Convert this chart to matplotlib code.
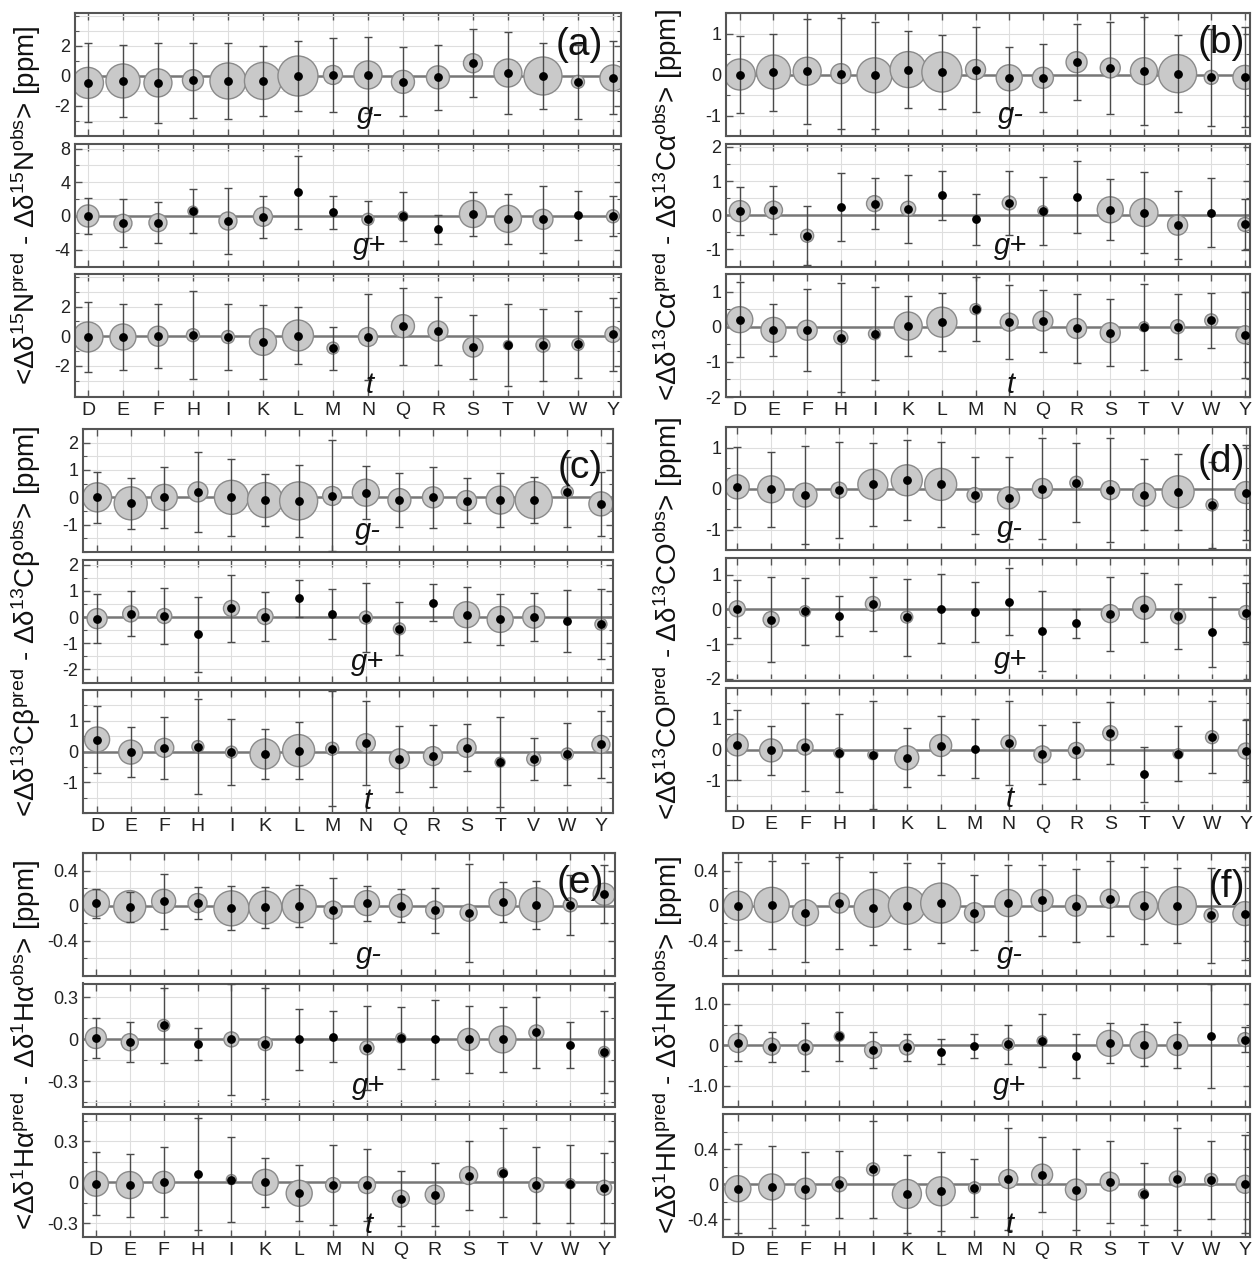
import numpy as np
import matplotlib.pyplot as plt

plt.rcParams['font.family'] = ['Liberation Sans', 'DejaVu Sans']
plt.rcParams['mathtext.fontset'] = 'custom'
plt.rcParams['mathtext.rm'] = 'Liberation Sans'
plt.rcParams['mathtext.it'] = 'Liberation Sans:italic'
plt.rcParams['axes.unicode_minus'] = False

residues = ['D', 'E', 'F', 'H', 'I', 'K', 'L', 'M', 'N', 'Q', 'R', 'S', 'T', 'V', 'W', 'Y']

# mean deviation, spread (error bar half length), circle diameter (population, px; 0 = none)
# (a) 15N
n_gm = [-0.46, -0.33, -0.46, -0.28, -0.33, -0.33, 0.0, 0.07, 0.07, -0.39, -0.09, 0.85, 0.2, 0.0, -0.39, -0.13]
n_gm_sd = [2.63, 2.43, 2.65, 2.5, 2.55, 2.35, 2.36, 2.45, 2.53, 2.3, 2.16, 2.28, 2.72, 2.2, 2.48, 2.43]
n_gm_pop = [31, 34, 28, 21, 36, 37, 40, 19, 28, 23, 23, 19, 28, 38, 13, 26]
n_gp = [0.0, -0.87, -0.8, 0.57, -0.6, -0.1, 2.8, 0.45, -0.4, -0.04, -1.6, 0.23, -0.34, -0.4, 0.08, -0.04]
n_gp_sd = [2.18, 2.85, 2.4, 2.6, 3.93, 2.5, 4.33, 1.95, 2.23, 2.9, 1.75, 2.6, 2.97, 3.98, 2.9, 2.38]
n_gp_pop = [22, 18, 18, 10, 18, 19, 0, 0, 12, 10, 0, 27, 27, 20, 0, 13]
n_t = [-0.05, -0.05, 0.0, 0.07, -0.05, -0.38, 0.05, -0.8, -0.05, 0.68, 0.35, -0.73, -0.6, -0.6, -0.55, 0.12]
n_t_sd = [2.35, 2.25, 2.15, 2.95, 2.2, 2.5, 1.95, 1.45, 2.9, 2.6, 2.28, 2.18, 2.78, 2.45, 2.25, 2.45]
n_t_pop = [30, 26, 20, 13, 13, 27, 31, 12, 19, 23, 20, 20, 9, 14, 12, 16]

# (b) 13C alpha
ca_gm = [0.0, 0.06, 0.08, 0.02, -0.02, 0.12, 0.06, 0.12, -0.08, -0.08, 0.3, 0.16, 0.08, 0.02, -0.07, -0.07]
ca_gm_sd = [0.94, 0.94, 1.28, 1.35, 1.3, 0.93, 0.9, 1.03, 0.76, 0.83, 0.93, 1.12, 1.32, 0.94, 1.18, 1.22]
ca_gm_pop = [31, 34, 28, 20, 35, 36, 40, 20, 26, 21, 21, 20, 27, 38, 14, 24]
ca_gp = [0.12, 0.15, -0.6, 0.24, 0.34, 0.19, 0.58, -0.12, 0.36, 0.13, 0.53, 0.16, 0.08, -0.29, 0.08, -0.27]
ca_gp_sd = [0.7, 0.7, 0.87, 1.0, 0.74, 0.99, 0.72, 0.74, 0.93, 1.0, 1.05, 0.89, 1.19, 0.99, 1.02, 0.74]
ca_gp_pop = [21, 18, 13, 0, 16, 15, 0, 0, 14, 10, 0, 26, 28, 20, 0, 14]
ca_t = [0.2, -0.09, -0.1, -0.31, -0.2, 0.02, 0.13, 0.5, 0.13, 0.16, -0.05, -0.17, 0.0, 0.0, 0.18, -0.23]
ca_t_sd = [1.06, 0.75, 1.16, 1.56, 1.32, 0.86, 0.83, 0.92, 1.06, 0.88, 0.98, 0.95, 1.22, 0.93, 0.79, 1.22]
ca_t_pop = [26, 25, 20, 14, 12, 28, 30, 11, 18, 20, 20, 20, 10, 14, 13, 18]

# (c) 13C beta
cb_gm = [0.0, -0.22, 0.0, 0.2, 0.0, -0.1, -0.13, 0.05, 0.17, -0.1, 0.0, -0.12, -0.1, -0.1, 0.2, -0.24]
cb_gm_sd = [0.93, 0.94, 1.11, 1.47, 1.4, 0.96, 1.32, 2.03, 0.97, 1.0, 1.11, 0.81, 1.0, 0.83, 1.29, 1.17]
cb_gm_pop = [29, 33, 26, 20, 34, 35, 38, 19, 27, 23, 21, 20, 28, 37, 12, 24]
cb_gp = [-0.06, 0.12, 0.04, -0.65, 0.33, 0.02, 0.71, 0.12, -0.02, -0.45, 0.55, 0.09, -0.09, 0.0, -0.15, -0.27]
cb_gp_sd = [0.94, 0.86, 1.08, 1.43, 1.27, 0.93, 0.72, 0.94, 1.31, 1.01, 0.71, 1.06, 0.96, 0.92, 1.2, 1.34]
cb_gp_pop = [20, 16, 15, 0, 16, 16, 0, 0, 13, 12, 0, 26, 26, 22, 0, 12]
cb_t = [0.39, -0.02, 0.12, 0.16, -0.02, -0.08, 0.03, 0.09, 0.27, -0.24, -0.15, 0.12, -0.35, -0.24, -0.08, 0.23]
cb_t_sd = [1.09, 0.82, 1.0, 1.55, 1.07, 0.8, 0.92, 1.87, 1.36, 1.08, 1.02, 0.77, 1.47, 0.68, 1.01, 1.09]
cb_t_pop = [25, 24, 19, 12, 12, 30, 32, 13, 19, 20, 19, 19, 10, 14, 12, 18]

# (d) 13CO
co_gm = [0.04, -0.02, -0.16, -0.04, 0.1, 0.2, 0.1, -0.16, -0.23, 0.0, 0.14, -0.04, -0.15, -0.08, -0.4, -0.1]
co_gm_sd = [0.97, 0.91, 1.2, 1.17, 1.01, 0.98, 1.03, 0.94, 1.01, 1.23, 0.96, 1.27, 0.86, 0.93, 1.05, 1.16]
co_gm_pop = [24, 27, 24, 16, 30, 31, 32, 15, 22, 20, 13, 19, 23, 32, 12, 22]
co_gp = [0.02, -0.29, -0.05, -0.19, 0.16, -0.22, 0.02, -0.07, 0.23, -0.62, -0.4, -0.12, 0.05, -0.2, -0.66, -0.09]
co_gp_sd = [0.83, 1.23, 0.97, 0.59, 0.78, 1.11, 1.0, 0.86, 0.96, 1.16, 0.41, 1.07, 1.0, 0.94, 1.01, 0.85]
co_gp_pop = [16, 16, 11, 0, 15, 12, 0, 0, 0, 0, 0, 18, 23, 15, 0, 14]
co_t = [0.15, -0.03, 0.08, -0.11, -0.17, -0.27, 0.13, 0.02, 0.22, -0.16, -0.03, 0.53, -0.81, -0.14, 0.4, -0.05]
co_t_sd = [1.15, 0.8, 1.43, 1.28, 1.75, 0.96, 0.95, 0.96, 1.37, 0.95, 0.92, 1.0, 0.9, 0.89, 1.18, 1.01]
co_t_pop = [22, 23, 16, 10, 10, 24, 22, 0, 15, 17, 16, 15, 0, 10, 13, 16]

# (e) 1H alpha
ha_gm = [0.03, -0.01, 0.05, 0.03, -0.03, -0.02, 0.0, -0.05, 0.03, 0.0, -0.05, -0.08, 0.04, 0.01, 0.01, 0.13]
ha_gm_sd = [0.165, 0.17, 0.31, 0.185, 0.25, 0.23, 0.24, 0.37, 0.2, 0.185, 0.255, 0.56, 0.225, 0.275, 0.345, 0.33]
ha_gm_pop = [27, 32, 24, 19, 35, 33, 34, 18, 25, 23, 18, 17, 27, 34, 14, 22]
ha_gp = [0.01, -0.02, 0.1, -0.03, 0.0, -0.03, 0.0, 0.02, -0.06, 0.01, 0.0, 0.0, 0.0, 0.05, -0.04, -0.09]
ha_gp_sd = [0.145, 0.145, 0.27, 0.115, 0.395, 0.395, 0.22, 0.185, 0.3, 0.225, 0.285, 0.24, 0.235, 0.255, 0.165, 0.29]
ha_gp_pop = [21, 17, 12, 0, 15, 14, 0, 0, 14, 10, 0, 22, 27, 15, 0, 11]
ha_t = [-0.01, -0.02, 0.0, 0.06, 0.02, 0.0, -0.08, -0.02, -0.02, -0.12, -0.09, 0.05, 0.07, -0.02, -0.01, -0.04]
ha_t_sd = [0.23, 0.23, 0.255, 0.41, 0.31, 0.18, 0.205, 0.29, 0.265, 0.2, 0.23, 0.25, 0.325, 0.28, 0.285, 0.255]
ha_t_pop = [25, 27, 22, 0, 10, 26, 26, 15, 17, 17, 19, 18, 10, 15, 10, 15]

# (f) 1HN
hn_gm = [0.0, 0.01, -0.08, 0.03, -0.03, 0.0, 0.03, -0.08, 0.03, 0.06, 0.0, 0.08, 0.0, 0.0, -0.11, -0.09]
hn_gm_sd = [0.5, 0.5, 0.565, 0.525, 0.415, 0.49, 0.46, 0.425, 0.43, 0.405, 0.415, 0.425, 0.435, 0.43, 0.54, 0.525]
hn_gm_pop = [29, 35, 26, 20, 38, 37, 40, 20, 27, 22, 21, 19, 28, 38, 14, 24]
hn_gp = [0.05, -0.04, -0.06, 0.21, -0.12, -0.06, -0.16, -0.02, 0.02, 0.1, -0.27, 0.04, 0.0, 0.0, 0.23, 0.13]
hn_gp_sd = [0.44, 0.365, 0.585, 0.595, 0.435, 0.325, 0.305, 0.285, 0.48, 0.645, 0.54, 0.49, 0.515, 0.555, 1.27, 0.31]
hn_gp_pop = [19, 17, 15, 10, 17, 15, 0, 0, 12, 10, 0, 26, 27, 21, 0, 14]
hn_t = [-0.05, -0.03, -0.05, 0.0, 0.17, -0.11, -0.08, -0.04, 0.06, 0.11, -0.06, 0.03, -0.11, 0.06, 0.05, 0.0]
hn_t_sd = [0.505, 0.465, 0.415, 0.38, 0.555, 0.445, 0.45, 0.33, 0.58, 0.425, 0.465, 0.465, 0.35, 0.575, 0.445, 0.56]
hn_t_pop = [26, 26, 21, 15, 13, 29, 29, 12, 19, 21, 21, 19, 10, 16, 13, 18]

ylabels = [
    r'<Δδ$^{15}$N$^{\mathrm{pred}}$ - Δδ$^{15}$N$^{\mathrm{obs}}$> [ppm]',
    r'<Δδ$^{13}$Cα$^{\mathrm{pred}}$ - Δδ$^{13}$Cα$^{\mathrm{obs}}$> [ppm]',
    r'<Δδ$^{13}$Cβ$^{\mathrm{pred}}$ - Δδ$^{13}$Cβ$^{\mathrm{obs}}$> [ppm]',
    r'<Δδ$^{13}$CO$^{\mathrm{pred}}$ - Δδ$^{13}$CO$^{\mathrm{obs}}$> [ppm]',
    r'<Δδ$^{1}$Hα$^{\mathrm{pred}}$ - Δδ$^{1}$Hα$^{\mathrm{obs}}$> [ppm]',
    r'<Δδ$^{1}$HN$^{\mathrm{pred}}$ - Δδ$^{1}$HN$^{\mathrm{obs}}$> [ppm]',
]
conf_names = ['g-', 'g+', 't']

W, H = 1255, 1263
fig = plt.figure(figsize=(W / 100, H / 100), dpi=100)

# panel layout in pixels: left, right, top, xlim, label pos, ylabel x
panels = [
    dict(tag='(a)', l=75, r=621, top=13, xlim=(0.63, 16.23), lab=(0.967, 0.89), ylx=26,
         data=[(n_gm, n_gm_sd, n_gm_pop), (n_gp, n_gp_sd, n_gp_pop), (n_t, n_t_sd, n_t_pop)],
         ylims=[(-4, 4.2), (-6, 8.6), (-4.1, 4.2)],
         ticks=[[-2, 0, 2], [-4, 0, 4, 8], [-2, 0, 2]], minor=[1, 2, 1]),
    dict(tag='(b)', l=726, r=1250, top=13, xlim=(0.59, 16.15), lab=(0.99, 0.9), ylx=668,
         data=[(ca_gm, ca_gm_sd, ca_gm_pop), (ca_gp, ca_gp_sd, ca_gp_pop), (ca_t, ca_t_sd, ca_t_pop)],
         ylims=[(-1.5, 1.5), (-1.5, 2.1), (-2, 1.5)],
         ticks=[[-1, 0, 1], [-1, 0, 1, 2], [-2, -1, 0, 1]], minor=[0.5, 0.5, 0.5]),
    dict(tag='(c)', l=83, r=613, top=429, xlim=(0.58, 16.36), lab=(0.98, 0.83), ylx=26,
         data=[(cb_gm, cb_gm_sd, cb_gm_pop), (cb_gp, cb_gp_sd, cb_gp_pop), (cb_t, cb_t_sd, cb_t_pop)],
         ylims=[(-2, 2.5), (-2.5, 2.2), (-2, 2)],
         ticks=[[-1, 0, 1, 2], [-2, -1, 0, 1, 2], [-1, 0, 1]], minor=[0.5, 0.5, 0.5]),
    dict(tag='(d)', l=726, r=1250, top=427, xlim=(0.67, 16.12), lab=(0.99, 0.86), ylx=668,
         data=[(co_gm, co_gm_sd, co_gm_pop), (co_gp, co_gp_sd, co_gp_pop), (co_t, co_t_sd, co_t_pop)],
         ylims=[(-1.5, 1.5), (-2.05, 1.5), (-2, 2)],
         ticks=[[-1, 0, 1], [-2, -1, 0, 1], [-1, 0, 1]], minor=[0.5, 0.5, 0.5]),
    dict(tag='(e)', l=83, r=615, top=853, xlim=(0.62, 16.32), lab=(0.98, 0.9), ylx=26,
         data=[(ha_gm, ha_gm_sd, ha_gm_pop), (ha_gp, ha_gp_sd, ha_gp_pop), (ha_t, ha_t_sd, ha_t_pop)],
         ylims=[(-0.8, 0.6), (-0.48, 0.4), (-0.4, 0.5)],
         ticks=[[-0.4, 0, 0.4], [-0.3, 0, 0.3], [-0.3, 0, 0.3]], minor=[0.2, 0.15, 0.15]),
    dict(tag='(f)', l=723, r=1250, top=853, xlim=(0.56, 16.15), lab=(0.99, 0.87), ylx=668,
         data=[(hn_gm, hn_gm_sd, hn_gm_pop), (hn_gp, hn_gp_sd, hn_gp_pop), (hn_t, hn_t_sd, hn_t_pop)],
         ylims=[(-0.8, 0.6), (-1.5, 1.5), (-0.6, 0.8)],
         ticks=[[-0.4, 0, 0.4], [-1.0, 0, 1.0], [-0.4, 0, 0.4]], minor=[0.2, 0.5, 0.2]),
]

sub_h = 123
gap = 7.5
x = np.arange(1, 17)
edge = '#555555'


def fmt(v, fine):
    if v == 0:
        return '0'
    if fine:
        return '%.1f' % v
    return '%g' % v


for pi, p in enumerate(panels):
    for si in range(3):
        top = p['top'] + si * (sub_h + gap)
        ax = fig.add_axes([p['l'] / W, 1 - (top + sub_h) / H, (p['r'] - p['l']) / W, sub_h / H])
        mu, sd, pop = [np.array(v, dtype=float) for v in p['data'][si]]
        ax.set_xlim(p['xlim'])
        ax.set_ylim(p['ylims'][si])

        # grid
        ax.set_axisbelow(True)
        ax.set_xticks(x)
        ax.set_yticks(p['ticks'][si])
        step = p['minor'][si]
        lo, hi = p['ylims'][si]
        ax.set_yticks(np.arange(np.ceil(lo / step) * step, hi + 1e-9, step), minor=True)
        ax.xaxis.grid(True, color='#dedede', lw=0.8)
        ax.yaxis.grid(True, which='both', color='#dedede', lw=0.8)
        ax.axhline(0, color='#777777', lw=1.8, zorder=1.5)

        has = pop > 0
        ax.scatter(x[has], mu[has], s=(pop[has] * 0.72) ** 2, facecolor='#c9c9c9',
                   edgecolor='#8a8a8a', linewidth=1.0, zorder=2)
        ax.errorbar(x, mu, yerr=sd, fmt='none', ecolor='#4a4a4a', elinewidth=1.0,
                    capsize=3, capthick=1.0, zorder=3)
        ax.scatter(x, mu, s=28, color='black', zorder=4)

        tk = p['ticks'][si]
        if pi == 5 and si == 1:
            ax.set_yticklabels([fmt(v, True) for v in tk])
        else:
            ax.set_yticklabels([fmt(v, False) for v in tk])

        ax.tick_params(which='both', direction='in', top=True, right=True, colors=edge,
                       labelcolor='#222222', labelsize=13)
        ax.tick_params(which='major', length=5, width=1)
        ax.tick_params(which='minor', length=3, width=0.8)
        if si == 2:
            ax.set_xticklabels(residues, fontsize=14)
        else:
            ax.set_xticklabels([])
        for s in ax.spines.values():
            s.set_color(edge)
            s.set_linewidth(1.5)

        name = conf_names[si]
        ybase = 0.03 if name == 't' else 0.105
        ax.text(9.05, ybase, name, transform=ax.get_xaxis_transform(), ha='center',
                va='baseline', fontsize=21, fontstyle='italic', color='#111111')

        if si == 0:
            ax.text(p['lab'][0], p['lab'][1], p['tag'], transform=ax.transAxes, ha='right',
                    va='top', fontsize=28, color='#111111')

    yc = p['top'] + (3 * sub_h + 2 * gap) / 2
    fig.text(p['ylx'] / W, 1 - yc / H, ylabels[pi], rotation=90, ha='center', va='center',
             fontsize=20, color='#111111')

fig.savefig('out.png', dpi=100, facecolor='white')
